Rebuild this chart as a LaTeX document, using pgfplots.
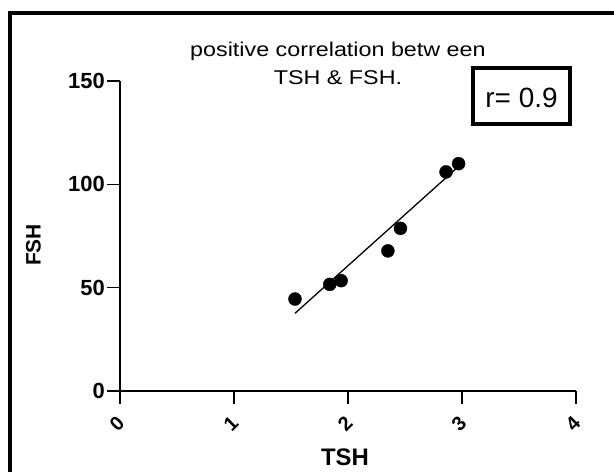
\documentclass[border=0pt]{standalone}
\usepackage{fontspec}
\setmainfont{Liberation Sans}
\usepackage{graphicx}
\usepackage{pgfplots}
\pgfplotsset{compat=1.18}
\begin{document}
\begin{tikzpicture}
\begin{axis}[
  scale only axis, width=456bp, height=310bp,
  at={(0,0)}, anchor=south west,
  xmin=0, xmax=4, ymin=0, ymax=150,
  axis lines=left, axis line style={-, line width=1.6bp},
  every tick/.style={black, line width=1.6bp},
  tick align=outside, major tick length=13bp,
  xtick={0,1,2,3,4}, ytick={0,50,100,150},
  /pgf/number format/assume math mode=true,
  yticklabel style={font=\bfseries\fontsize{22}{22}\selectfont, inner sep=2bp},
  xticklabel style={font=\bfseries\fontsize{20}{20}\selectfont, anchor=center, xshift=-3bp, yshift=-20bp, rotate=45},
  xlabel={TSH}, ylabel={FSH},
  xlabel style={font=\bfseries\fontsize{24}{24}\selectfont, at={(axis description cs:0.4934,-0.2145)}, anchor=center},
  ylabel style={font=\bfseries\fontsize{21}{21}\selectfont, at={(axis description cs:-0.19,0.471)}, anchor=center},
  title={\scalebox{1.17}[1]{\begin{tabular}[b]{@{}c@{}}positive correlation betw een\\TSH \& FSH.\end{tabular}}},
  title style={font=\fontsize{20}{28}\selectfont, at={(axis description cs:0.478,0.971)}, anchor=base, inner sep=0pt},
  clip=false,
]
\addplot[only marks, mark=*, mark size=6.5bp, black] coordinates {
  (1.535,44.5) (1.84,51.6) (1.94,53.4) (2.35,67.8) (2.46,78.7) (2.86,106) (2.97,110)
};
\addplot[black, line width=1.3bp] coordinates {(1.535,37.6) (2.953,107.8)};
\end{axis}
\draw[line width=4bp] (353bp,267bp) rectangle (450bp,323bp);
\node[anchor=base, inner sep=0pt, font=\fontsize{28}{28}\selectfont] at (401.5bp,283bp) {r= 0.9};
\draw[line width=4.5bp] (-110bp,-130bp) rectangle (540bp,378bp);
\pgfresetboundingbox
\path[use as bounding box] (-120bp,-81bp) rectangle (494bp,391bp);
\end{tikzpicture}
\end{document}
